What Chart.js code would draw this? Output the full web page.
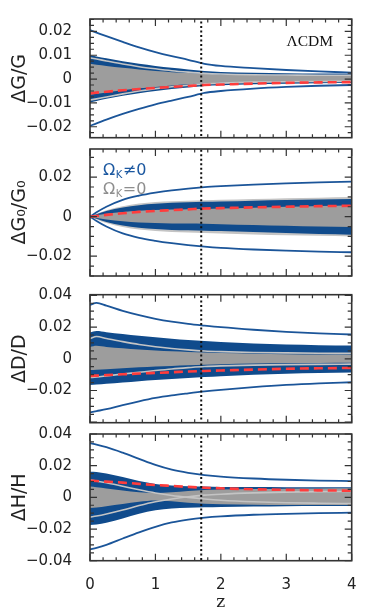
<!DOCTYPE html>
<html>
<head>
<meta charset="utf-8">
<script src="https://cdn.jsdelivr.net/npm/chart.js@4.4.1/dist/chart.umd.min.js"></script>
<style>
html, body { margin: 0; padding: 0; background: #fff; }
#wrap { position: relative; width: 374px; height: 613px; }
canvas { position: absolute; left: 0; top: 0; }
</style>
</head>
<body>
<div id="wrap">
  <canvas id="c1" width="374" height="613"></canvas>
  <canvas id="c2" width="374" height="613"></canvas>
  <canvas id="c3" width="374" height="613"></canvas>
  <canvas id="c4" width="374" height="613"></canvas>
</div>
<script>
const z = [0, 0.1, 0.25, 0.5, 0.75, 1, 1.25, 1.5, 1.75, 2, 2.5, 3, 3.5, 4];
const zMark = 1.7;
const xTicks = [0, 1, 2, 3, 4];

// dG/G
const G_yTicks = [-0.02, -0.01, 0, 0.01, 0.02];
const G_outerUp = [0.0205, 0.0195, 0.0180, 0.0156, 0.0133, 0.0113, 0.0096, 0.0081, 0.0064, 0.0055, 0.0046, 0.0038, 0.0032, 0.0027];
const G_outerLo = [-0.0196, -0.0186, -0.0170, -0.0146, -0.0125, -0.0106, -0.0090, -0.0075, -0.0058, -0.0050, -0.0040, -0.0033, -0.0028, -0.0025];
const G_blueUp = [0.0100, 0.0095, 0.0087, 0.0075, 0.0064, 0.0055, 0.0047, 0.0040, 0.0034, 0.0030, 0.0026, 0.0024, 0.0023, 0.0022];
const G_blueLo = [-0.0098, -0.0092, -0.0083, -0.0070, -0.0059, -0.0050, -0.0042, -0.0035, -0.0029, -0.0026, -0.0022, -0.0020, -0.0018, -0.0017];
const G_grayUp = [0.0064, 0.0060, 0.0055, 0.0047, 0.0040, 0.0034, 0.0029, 0.0025, 0.0021, 0.0019, 0.0017, 0.0016, 0.0016, 0.0016];
const G_grayLo = [-0.0066, -0.0062, -0.0056, -0.0047, -0.0039, -0.0033, -0.0027, -0.0022, -0.0018, -0.0015, -0.0012, -0.0010, -0.0009, -0.0008];
const G_lightA = [0.0089, 0.0084, 0.0076, 0.0063, 0.0052, 0.0043, 0.0035, 0.0029, 0.0024, 0.0021, 0.0018, 0.0017, 0.0016, 0.0016];
const G_lightB = [-0.0088, -0.0083, -0.0075, -0.0062, -0.0050, -0.0040, -0.0032, -0.0026, -0.0020, -0.0017, -0.0013, -0.0011, -0.0010, -0.0009];
const G_red = [-0.0060, -0.0057, -0.0053, -0.0047, -0.0042, -0.0037, -0.0033, -0.0029, -0.0025, -0.0023, -0.0019, -0.0016, -0.0014, -0.0013];

// dG0/G0
const G0_yTicks = [-0.02, 0, 0.02];
const G0_outerUp = [0, 0.0022, 0.0050, 0.0085, 0.0106, 0.0121, 0.0133, 0.0142, 0.0149, 0.0154, 0.0162, 0.0168, 0.0173, 0.0177];
const G0_outerLo = [0, -0.0022, -0.0050, -0.0085, -0.0107, -0.0122, -0.0134, -0.0144, -0.0152, -0.0158, -0.0166, -0.0172, -0.0177, -0.0180];
const G0_blueUp = [0, 0.0012, 0.0028, 0.0046, 0.0058, 0.0065, 0.0070, 0.0073, 0.0075, 0.0077, 0.0081, 0.0084, 0.0087, 0.0089];
const G0_blueLo = [0, -0.0011, -0.0027, -0.0045, -0.0056, -0.0063, -0.0067, -0.0069, -0.0071, -0.0073, -0.0078, -0.0083, -0.0088, -0.0091];
const G0_grayUp = [0, 0.0007, 0.0015, 0.0024, 0.0030, 0.0034, 0.0036, 0.0038, 0.0039, 0.0041, 0.0045, 0.0050, 0.0054, 0.0058];
const G0_grayLo = [0, -0.0007, -0.0015, -0.0023, -0.0029, -0.0032, -0.0034, -0.0035, -0.0036, -0.0038, -0.0042, -0.0046, -0.0050, -0.0052];
const G0_lightUp = [0, 0.0015, 0.0033, 0.0053, 0.0066, 0.0074, 0.0078, 0.0081, 0.0083, 0.0085, 0.0089, 0.0093, 0.0096, 0.0099];
const G0_lightLo = [0, -0.0014, -0.0032, -0.0052, -0.0065, -0.0072, -0.0077, -0.0080, -0.0083, -0.0085, -0.0090, -0.0094, -0.0097, -0.0100];
const G0_red = [0, 0.0003, 0.0009, 0.0017, 0.0024, 0.0029, 0.0033, 0.0037, 0.0041, 0.0043, 0.0047, 0.0050, 0.0053, 0.0055];

// dD/D
const D_yTicks = [-0.02, 0, 0.02, 0.04];
const D_outerUp = [0.0340, 0.0352, 0.0335, 0.0302, 0.0275, 0.0252, 0.0234, 0.0220, 0.0209, 0.0199, 0.0183, 0.0170, 0.0160, 0.0153];
const D_outerLo = [-0.0338, -0.0330, -0.0318, -0.0292, -0.0268, -0.0247, -0.0231, -0.0218, -0.0206, -0.0196, -0.0179, -0.0165, -0.0155, -0.0148];
const D_blueUp = [0.0165, 0.0175, 0.0168, 0.0156, 0.0145, 0.0135, 0.0127, 0.0119, 0.0112, 0.0106, 0.0097, 0.0090, 0.0086, 0.0083];
const D_blueLo = [-0.0165, -0.0162, -0.0157, -0.0149, -0.0141, -0.0134, -0.0127, -0.0121, -0.0115, -0.0110, -0.0101, -0.0094, -0.0090, -0.0087];
const D_grayUp = [0.0075, 0.0082, 0.0075, 0.0066, 0.0058, 0.0052, 0.0047, 0.0043, 0.0039, 0.0036, 0.0032, 0.0029, 0.0027, 0.0026];
const D_grayLo = [-0.0071, -0.0069, -0.0066, -0.0060, -0.0054, -0.0049, -0.0045, -0.0041, -0.0037, -0.0034, -0.0030, -0.0027, -0.0026, -0.0025];
const D_lightA = [0.0128, 0.0140, 0.0128, 0.0108, 0.0090, 0.0076, 0.0065, 0.0056, 0.0049, 0.0045, 0.0040, 0.0037, 0.0035, 0.0034];
const D_lightB = [-0.0118, -0.0115, -0.0108, -0.0096, -0.0085, -0.0074, -0.0064, -0.0056, -0.0049, -0.0045, -0.0040, -0.0037, -0.0035, -0.0034];
const D_red = [-0.0108, -0.0106, -0.0103, -0.0098, -0.0093, -0.0089, -0.0085, -0.0080, -0.0077, -0.0074, -0.0068, -0.0063, -0.0060, -0.0058];

// dH/H
const H_yTicks = [-0.04, -0.02, 0, 0.02, 0.04];
const H_outerUp = [0.0342, 0.0333, 0.0317, 0.0282, 0.0243, 0.0205, 0.0175, 0.0155, 0.0141, 0.0131, 0.0119, 0.0111, 0.0106, 0.0103];
const H_outerLo = [-0.0329, -0.0319, -0.0300, -0.0260, -0.0221, -0.0186, -0.0158, -0.0140, -0.0128, -0.0120, -0.0110, -0.0104, -0.0100, -0.0097];
const H_blueUp = [0.0162, 0.0160, 0.0150, 0.0128, 0.0103, 0.0085, 0.0075, 0.0070, 0.0068, 0.0066, 0.0065, 0.0064, 0.0063, 0.0063];
const H_blueLo = [-0.0175, -0.0172, -0.0160, -0.0133, -0.0103, -0.0082, -0.0071, -0.0066, -0.0063, -0.0061, -0.0058, -0.0056, -0.0055, -0.0055];
const H_grayUp = [0.0068, 0.0064, 0.0056, 0.0043, 0.0032, 0.0028, 0.0032, 0.0040, 0.0046, 0.0050, 0.0053, 0.0055, 0.0056, 0.0057];
const H_grayLo = [-0.0068, -0.0064, -0.0056, -0.0042, -0.0028, -0.0020, -0.0025, -0.0034, -0.0041, -0.0044, -0.0046, -0.0048, -0.0049, -0.0049];
const H_lightA = [0.0110, 0.0103, 0.0092, 0.0070, 0.0048, 0.0028, 0.0012, 0.0000, -0.0010, -0.0018, -0.0028, -0.0034, -0.0037, -0.0039];
const H_lightB = [-0.0125, -0.0118, -0.0105, -0.0080, -0.0052, -0.0028, -0.0010, 0.0004, 0.0014, 0.0020, 0.0028, 0.0033, 0.0036, 0.0038];
const H_red = [0.0105, 0.0103, 0.0099, 0.0093, 0.0085, 0.0078, 0.0072, 0.0066, 0.0061, 0.0057, 0.0051, 0.0047, 0.0044, 0.0042];

const BLUE = '#104b8c';
const LINE_BLUE = '#1b5599';
const GRAY = '#9d9d9d';
const LIGHT = '#c4c4c4';
const RED = '#ff3c3c';

Chart.defaults.font.family = 'DejaVu Sans';
Chart.defaults.color = '#222';

function pts(arr) { return z.map((v, i) => ({ x: v, y: arr[i] })); }

function line(arr, color, width, order, extra) {
  return Object.assign({
    data: pts(arr), borderColor: color, borderWidth: width, pointRadius: 0,
    fill: false, order: order, cubicInterpolationMode: 'monotone'
  }, extra || {});
}

function makeSets(p) {
  const sets = [
    { data: [{ x: zMark, y: -1 }, { x: zMark, y: 1 }], borderColor: '#111', borderWidth: 2,
      borderDash: [2, 2.5], pointRadius: 0, fill: false, order: 0 },
    line(p.red, RED, 2.6, 1, { borderDash: [9, 5] }),
    line(p.outerUp, LINE_BLUE, 1.8, 2),
    line(p.outerLo, LINE_BLUE, 1.8, 2),
    line(p.grayUp, 'rgba(0,0,0,0)', 0, 4, { fill: '+1', backgroundColor: GRAY }),
    line(p.grayLo, 'rgba(0,0,0,0)', 0, 4),
    line(p.blueUp, 'rgba(0,0,0,0)', 0, 5, { fill: '+1', backgroundColor: BLUE }),
    line(p.blueLo, 'rgba(0,0,0,0)', 0, 5)
  ];
  if (p.lightUp) {
    sets.push(line(p.lightUp, 'rgba(0,0,0,0)', 0, 6, { fill: '+1', backgroundColor: LIGHT }));
    sets.push(line(p.lightLo, 'rgba(0,0,0,0)', 0, 6));
  }
  if (p.lightA) {
    sets.push(line(p.lightA, LIGHT, 1.6, 3));
    sets.push(line(p.lightB, LIGHT, 1.6, 3));
  }
  return sets;
}

const fmt = v => v === 0 ? '0' : (v < 0 ? '\u2212' : '') + Math.abs(v).toFixed(2);

// inward tick marks on all four sides plus the frame
const frameTicks = {
  id: 'frameTicks',
  afterDraw(chart, args, o) {
    const { ctx, chartArea: a, scales: { x, y } } = chart;
    ctx.save();
    ctx.strokeStyle = '#333';
    ctx.lineWidth = 1.2;
    ctx.beginPath();
    for (let i = 0; i <= 20; i++) {
      const v = i * 0.2;
      const px = x.getPixelForValue(v);
      const len = i % 5 === 0 ? 7 : 3.5;
      ctx.moveTo(px, a.top); ctx.lineTo(px, a.top + len);
      ctx.moveTo(px, a.bottom); ctx.lineTo(px, a.bottom - len);
    }
    const per = Math.round(o.major / o.minor);
    const k0 = Math.ceil(y.min / o.minor - 1e-6), k1 = Math.floor(y.max / o.minor + 1e-6);
    for (let k = k0; k <= k1; k++) {
      const py = y.getPixelForValue(k * o.minor);
      const len = k % per === 0 ? 7 : 4;
      ctx.moveTo(a.left, py); ctx.lineTo(a.left + len, py);
      ctx.moveTo(a.right, py); ctx.lineTo(a.right - len, py);
    }
    ctx.stroke();
    ctx.lineWidth = 1.6;
    ctx.strokeRect(a.left, a.top, a.right - a.left, a.bottom - a.top);
    ctx.restore();
    if (o.note) o.note(ctx, a);
  }
};

function omega(ctx, x, y, rel, color) {
  ctx.fillStyle = color;
  ctx.textBaseline = 'alphabetic';
  ctx.textAlign = 'left';
  ctx.font = '16px "DejaVu Sans"';
  ctx.fillText('\u03A9', x, y);
  let w = ctx.measureText('\u03A9').width;
  ctx.font = '10px "DejaVu Sans"';
  ctx.fillText('K', x + w + 0.5, y + 3);
  w += ctx.measureText('K').width + 1;
  ctx.font = '16px "DejaVu Sans"';
  ctx.fillText(rel + '0', x + w, y);
}

const panels = [
  { id: 'c1', top: 10, bottom: 137.7, min: -0.0246, max: 0.0252, ticks: G_yTicks, major: 0.01, minor: 0.0025,
    title: '\u0394G/G',
    data: { red: G_red, outerUp: G_outerUp, outerLo: G_outerLo, blueUp: G_blueUp, blueLo: G_blueLo,
            grayUp: G_grayUp, grayLo: G_grayLo, lightA: G_lightA, lightB: G_lightB },
    note: (ctx, a) => {
      ctx.save();
      ctx.fillStyle = '#111';
      ctx.font = '15.5px "Liberation Serif"';
      ctx.textAlign = 'center';
      ctx.textBaseline = 'middle';
      ctx.fillText('\u039BCDM', a.right - 42, a.top + 23);
      ctx.restore();
    } },
  { id: 'c2', top: 149, bottom: 276, min: -0.030, max: 0.0342, ticks: G0_yTicks, major: 0.02, minor: 0.005,
    title: '\u0394G\u2080/G\u2080',
    data: { red: G0_red, outerUp: G0_outerUp, outerLo: G0_outerLo, blueUp: G0_blueUp, blueLo: G0_blueLo,
            grayUp: G0_grayUp, grayLo: G0_grayLo, lightUp: G0_lightUp, lightLo: G0_lightLo },
    note: (ctx, a) => {
      ctx.save();
      omega(ctx, a.left + 13, a.top + 26, '\u2260', '#1c58a0');
      omega(ctx, a.left + 13, a.top + 44.5, '=', '#8e8e8e');
      ctx.restore();
    } },
  { id: 'c3', top: 294.7, bottom: 422.7, min: -0.0403, max: 0.0404, ticks: D_yTicks, major: 0.02, minor: 0.005,
    title: '\u0394D/D',
    data: { red: D_red, outerUp: D_outerUp, outerLo: D_outerLo, blueUp: D_blueUp, blueLo: D_blueLo,
            grayUp: D_grayUp, grayLo: D_grayLo, lightA: D_lightA, lightB: D_lightB } },
  { id: 'c4', top: 434, bottom: 560.7, min: -0.04, max: 0.04, ticks: H_yTicks, major: 0.02, minor: 0.005,
    title: '\u0394H/H', showX: true,
    data: { red: H_red, outerUp: H_outerUp, outerLo: H_outerLo, blueUp: H_blueUp, blueLo: H_blueLo,
            grayUp: H_grayUp, grayLo: H_grayLo, lightA: H_lightA, lightB: H_lightB } }
];

panels.forEach(p => {
  const xh = p.showX ? 613 - p.bottom : 0;
  new Chart(document.getElementById(p.id), {
    type: 'line',
    data: { datasets: makeSets(p.data) },
    plugins: [frameTicks],
    options: {
      responsive: false,
      animation: false,
      devicePixelRatio: 1,
      layout: { padding: { left: 0, right: 374 - 351.7, top: p.top, bottom: 613 - p.bottom - xh } },
      plugins: {
        legend: { display: false },
        tooltip: { enabled: false },
        frameTicks: { major: p.major, minor: p.minor, note: p.note }
      },
      scales: {
        x: {
          type: 'linear', min: 0, max: 4,
          display: !!p.showX,
          grid: { display: false },
          border: { display: false },
          afterBuildTicks: s => { s.ticks = xTicks.map(v => ({ value: v })); },
          afterFit: s => { s.height = xh; },
          ticks: { font: { size: 15 }, padding: 7, color: '#222', callback: v => String(v) },
          title: { display: true, text: 'z', font: { family: 'DejaVu Serif', size: 17 }, color: '#222',
                   padding: { top: 0, bottom: 0 } }
        },
        y: {
          type: 'linear', min: p.min, max: p.max,
          grid: { display: false },
          border: { display: false },
          afterBuildTicks: s => { s.ticks = p.ticks.map(v => ({ value: v })); },
          afterFit: s => { s.width = 90; },
          ticks: { font: { size: 15 }, padding: 10, color: '#222', callback: fmt },
          title: { display: true, text: p.title, font: { size: 19 }, color: '#222',
                   padding: { top: 8.6, bottom: 0 } }
        }
      }
    }
  });
});
</script>
</body>
</html>
